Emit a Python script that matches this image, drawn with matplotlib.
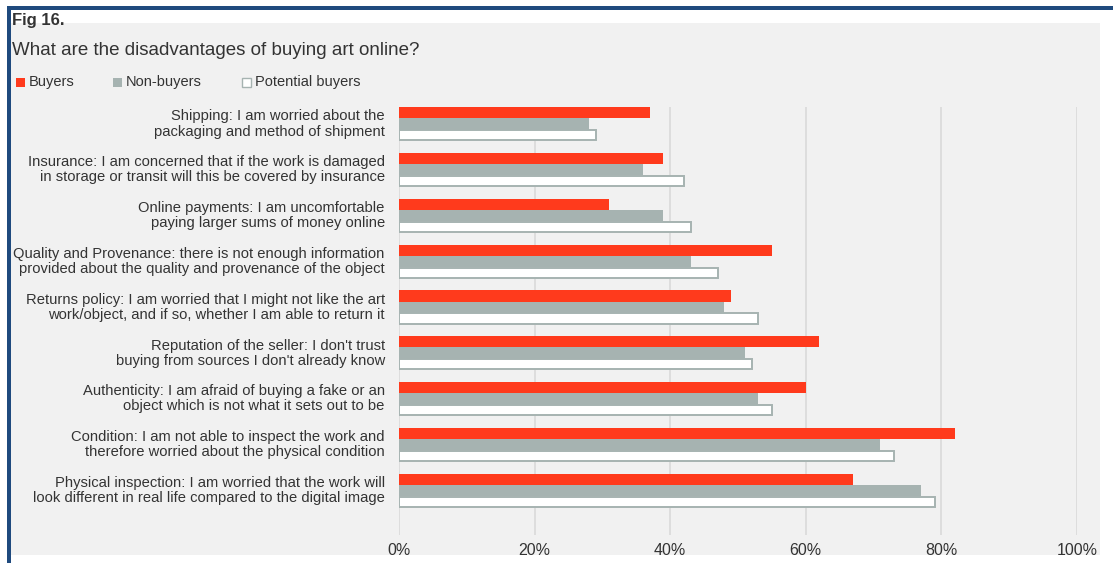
import numpy as np
import matplotlib.pyplot as plt
from matplotlib.patches import Rectangle

labels = [
    "Shipping: I am worried about the\npackaging and method of shipment",
    "Insurance: I am concerned that if the work is damaged\nin storage or transit will this be covered by insurance",
    "Online payments: I am uncomfortable\npaying larger sums of money online",
    "Quality and Provenance: there is not enough information\nprovided about the quality and provenance of the object",
    "Returns policy: I am worried that I might not like the art\nwork/object, and if so, whether I am able to return it",
    "Reputation of the seller: I don't trust\nbuying from sources I don't already know",
    "Authenticity: I am afraid of buying a fake or an\nobject which is not what it sets out to be",
    "Condition: I am not able to inspect the work and\ntherefore worried about the physical condition",
    "Physical inspection: I am worried that the work will\nlook different in real life compared to the digital image",
]
buyers = [37, 39, 31, 55, 49, 62, 60, 82, 67]
non_buyers = [28, 36, 39, 43, 48, 51, 53, 71, 77]
potential = [29, 42, 43, 47, 53, 52, 55, 73, 79]
ticks = [0, 20, 40, 60, 80, 100]

plt.rcParams['font.family'] = ['Liberation Sans', 'DejaVu Sans']
txt = '#333333'
red = '#ff3a1c'
grey = '#a6b3b1'

W, H = 1113, 563
fig = plt.figure(figsize=(W / 100, H / 100), dpi=100)
fig.patch.set_facecolor('white')

def fx(px):
    return px / W

def fy(py):
    return 1 - py / H

# panel background and blue frame
fig.patches.append(Rectangle((fx(11), fy(555)), fx(1100 - 11), (555 - 23) / H,
                             transform=fig.transFigure, facecolor='#f1f1f1', edgecolor='none', zorder=-10))
fig.patches.append(Rectangle((fx(7), fy(10)), fx(W - 7), 4 / H,
                             transform=fig.transFigure, facecolor='#1f4a7e', edgecolor='none', zorder=-9))
fig.patches.append(Rectangle((fx(7), 0), fx(4), fy(6),
                             transform=fig.transFigure, facecolor='#1f4a7e', edgecolor='none', zorder=-9))

ax = fig.add_axes([fx(399), fy(535), fx(1077 - 399), (535 - 107) / H])
ax.set_zorder(2)
ax.set_facecolor('none')
y = np.arange(len(labels))
h = 0.245
ax.barh(y - h, buyers, height=h, color=red, edgecolor='none', zorder=3)
ax.barh(y, non_buyers, height=h, color=grey, edgecolor='none', zorder=3)
ax.barh(y + h, potential, height=h * 0.92, color='white', edgecolor=grey, linewidth=1.4, zorder=3)

ax.set_xlim(0, 100)
ax.set_ylim(8.97, -0.371)
ax.set_xticks(ticks)
ax.set_xticklabels([f"{t}%" for t in ticks], fontsize=11.5, color=txt)
ax.tick_params(axis='x', length=0, pad=6)
ax.set_yticks([])
ax.grid(axis='x', color='#dadada', linewidth=1.2, zorder=0)
for s in ax.spines.values():
    s.set_visible(False)

for i, lab in enumerate(labels):
    ax.text(-0.021, i, lab, transform=ax.get_yaxis_transform(), ha='right', va='center',
            multialignment='right', fontsize=10.65, color=txt, linespacing=1.1)

fig.text(fx(12), fy(25), "Fig 16.", fontsize=12, fontweight='bold', color=txt)
fig.text(fx(12), fy(55), "What are the disadvantages of buying art online?", fontsize=13.5, color=txt)

# legend
items = [(16, red, 'none', "Buyers"), (113, grey, 'none', "Non-buyers"), (242, 'white', grey, "Potential buyers")]
for x, fc, ec, name in items:
    fig.patches.append(Rectangle((fx(x), fy(87)), fx(9), 9 / H, transform=fig.transFigure,
                                 facecolor=fc, edgecolor=ec, linewidth=1, zorder=2))
    fig.text(fx(x + 13), fy(82), name, fontsize=10.5, color=txt, va='center')

fig.savefig('out.png', dpi=100, facecolor='white')
